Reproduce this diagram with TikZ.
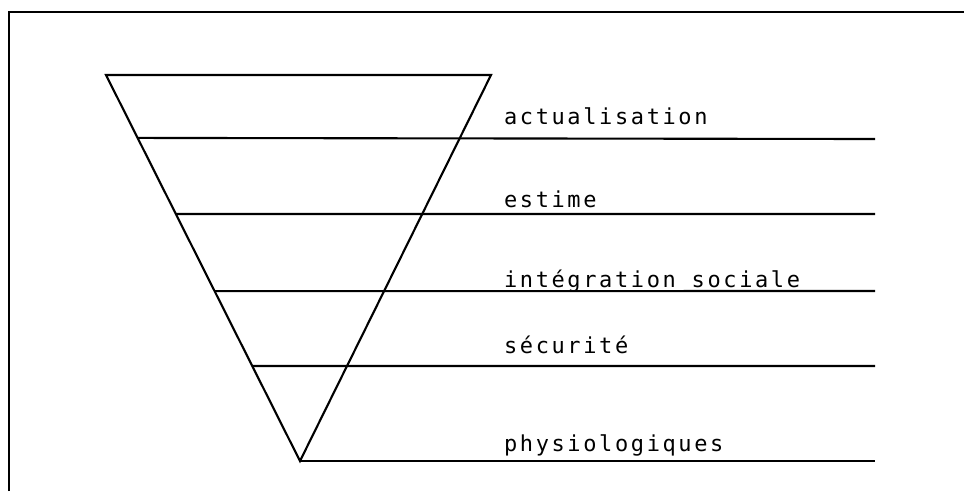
\documentclass[tikz,border=0pt]{standalone}
\usepackage{fontspec}
\newfontfamily\typo[LetterSpace=12]{DejaVu Sans Mono}
\usetikzlibrary{calc}

\begin{document}
\begin{tikzpicture}[x=0.02cm, y=-0.02cm, line width=1.2pt,
    niveau/.style={anchor=base west, inner sep=0pt, font=\typo\fontsize{12.5}{14}\selectfont}]
    \useasboundingbox (0,0) rectangle (964,491);
    % cadre
    \draw[line width=1.5pt] (9,491) -- (9,12) -- (964,12);
    % triangle
    \coordinate (hg) at (106,75);
    \coordinate (hd) at (491,75);
    \coordinate (pointe) at (300,461);
    \draw[line join=miter] (hg) -- (hd) -- (pointe) -- cycle;
    % niveaux
    \foreach \t/\y/\base/\nom in {0.163/139/124/actualisation, 0.360/214/207/estime,
        0.560/291/287/{intégration sociale}, 0.754/366/353/sécurité} {
        \coordinate (g\y) at ($(hg)!\t!(pointe)$);
        \coordinate (d\y) at (875,\y);
        \draw (g\y) -- (d\y);
        \node[niveau] (n\y) at (503,\base) {\nom};
    }
    \coordinate (d461) at (875,461);
    \draw (pointe) -- (d461);
    \node[niveau] (n461) at (503,451) {physiologiques};
\end{tikzpicture}
\end{document}
